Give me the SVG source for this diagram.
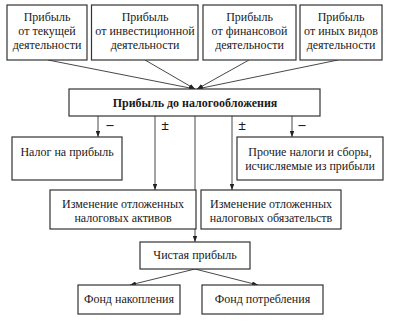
<svg xmlns="http://www.w3.org/2000/svg" width="399" height="322" viewBox="0 0 399 322">
<style>
.box{fill:#fff;stroke:#333;stroke-width:1.2}
.t{font-family:"Liberation Serif","Times New Roman",serif;font-size:12px;fill:#1a1a1a;text-anchor:middle}
.b{font-weight:bold}
.s{font-size:14px;font-weight:bold}
.c{stroke:#333;stroke-width:0.9;fill:none}
</style>
<defs>
<marker id="ah" viewBox="0 0 8 6" refX="8" refY="3" markerWidth="6" markerHeight="4.5" orient="auto" markerUnits="userSpaceOnUse">
<path d="M0,0 L8,3 L0,6 z" fill="#222"/>
</marker>
</defs>
<rect width="399" height="322" fill="#fff"/>
<g id="connectors">
<line class="c" x1="48" y1="60" x2="195" y2="89" marker-end="url(#ah)"/>
<line class="c" x1="145" y1="60" x2="195" y2="89" marker-end="url(#ah)"/>
<line class="c" x1="249" y1="60" x2="197" y2="89" marker-end="url(#ah)"/>
<line class="c" x1="338" y1="60" x2="197" y2="89" marker-end="url(#ah)"/>
<line class="c" x1="98" y1="116" x2="98" y2="137" marker-end="url(#ah)"/>
<line class="c" x1="155" y1="116" x2="155" y2="190" marker-end="url(#ah)"/>
<line class="c" x1="195" y1="116" x2="195" y2="242" marker-end="url(#ah)"/>
<line class="c" x1="232" y1="116" x2="232" y2="190" marker-end="url(#ah)"/>
<line class="c" x1="292" y1="116" x2="292" y2="137" marker-end="url(#ah)"/>
<line class="c" x1="195" y1="269" x2="130" y2="285" marker-end="url(#ah)"/>
<line class="c" x1="195" y1="269" x2="258" y2="285" marker-end="url(#ah)"/>
<text class="t s" x="110" y="129">–</text>
<text class="t s" x="165" y="130">±</text>
<text class="t s" x="242" y="130">±</text>
<text class="t s" x="302" y="129">–</text>
</g>
<g id="n1"><rect class="box" x="7" y="5" width="80" height="55"/>
<text class="t" x="47" y="21">Прибыль</text><text class="t" x="47" y="35">от текущей</text><text class="t" x="47" y="49">деятельности</text></g>
<g id="n2"><rect class="box" x="91.5" y="5" width="106.5" height="55"/>
<text class="t" x="145" y="21">Прибыль</text><text class="t" x="145" y="35">от инвестиционной</text><text class="t" x="145" y="49">деятельности</text></g>
<g id="n3"><rect class="box" x="203" y="5" width="93" height="55"/>
<text class="t" x="249.5" y="21">Прибыль</text><text class="t" x="249.5" y="35">от финансовой</text><text class="t" x="249.5" y="49">деятельности</text></g>
<g id="n4"><rect class="box" x="300" y="5" width="82" height="55"/>
<text class="t" x="341" y="21">Прибыль</text><text class="t" x="341" y="35">от иных видов</text><text class="t" x="341" y="49">деятельности</text></g>
<g id="n5"><rect class="box" x="69" y="89" width="251" height="27"/>
<text class="t b" x="195" y="107">Прибыль до налогообложения</text></g>
<g id="n6"><rect class="box" x="12" y="137" width="110" height="43"/>
<text class="t" x="67" y="156">Налог на прибыль</text></g>
<g id="n7"><rect class="box" x="237" y="137" width="146" height="43"/>
<text class="t" x="310" y="156">Прочие налоги и сборы,</text><text class="t" x="310" y="170">исчисляемые из прибыли</text></g>
<g id="n8"><rect class="box" x="50" y="190" width="146" height="39"/>
<text class="t" x="123" y="208">Изменение отложенных</text><text class="t" x="123" y="222">налоговых активов</text></g>
<g id="n9"><rect class="box" x="201" y="190" width="140" height="39"/>
<text class="t" x="271" y="208">Изменение отложенных</text><text class="t" x="271" y="222">налоговых обязательств</text></g>
<g id="n10"><rect class="box" x="140" y="242" width="110" height="27"/>
<text class="t" x="195" y="259">Чистая прибыль</text></g>
<g id="n11"><rect class="box" x="78" y="285" width="102" height="29"/>
<text class="t" x="129" y="303">Фонд накопления</text></g>
<g id="n12"><rect class="box" x="202" y="285" width="121" height="29"/>
<text class="t" x="262.5" y="303">Фонд потребления</text></g>
</svg>
